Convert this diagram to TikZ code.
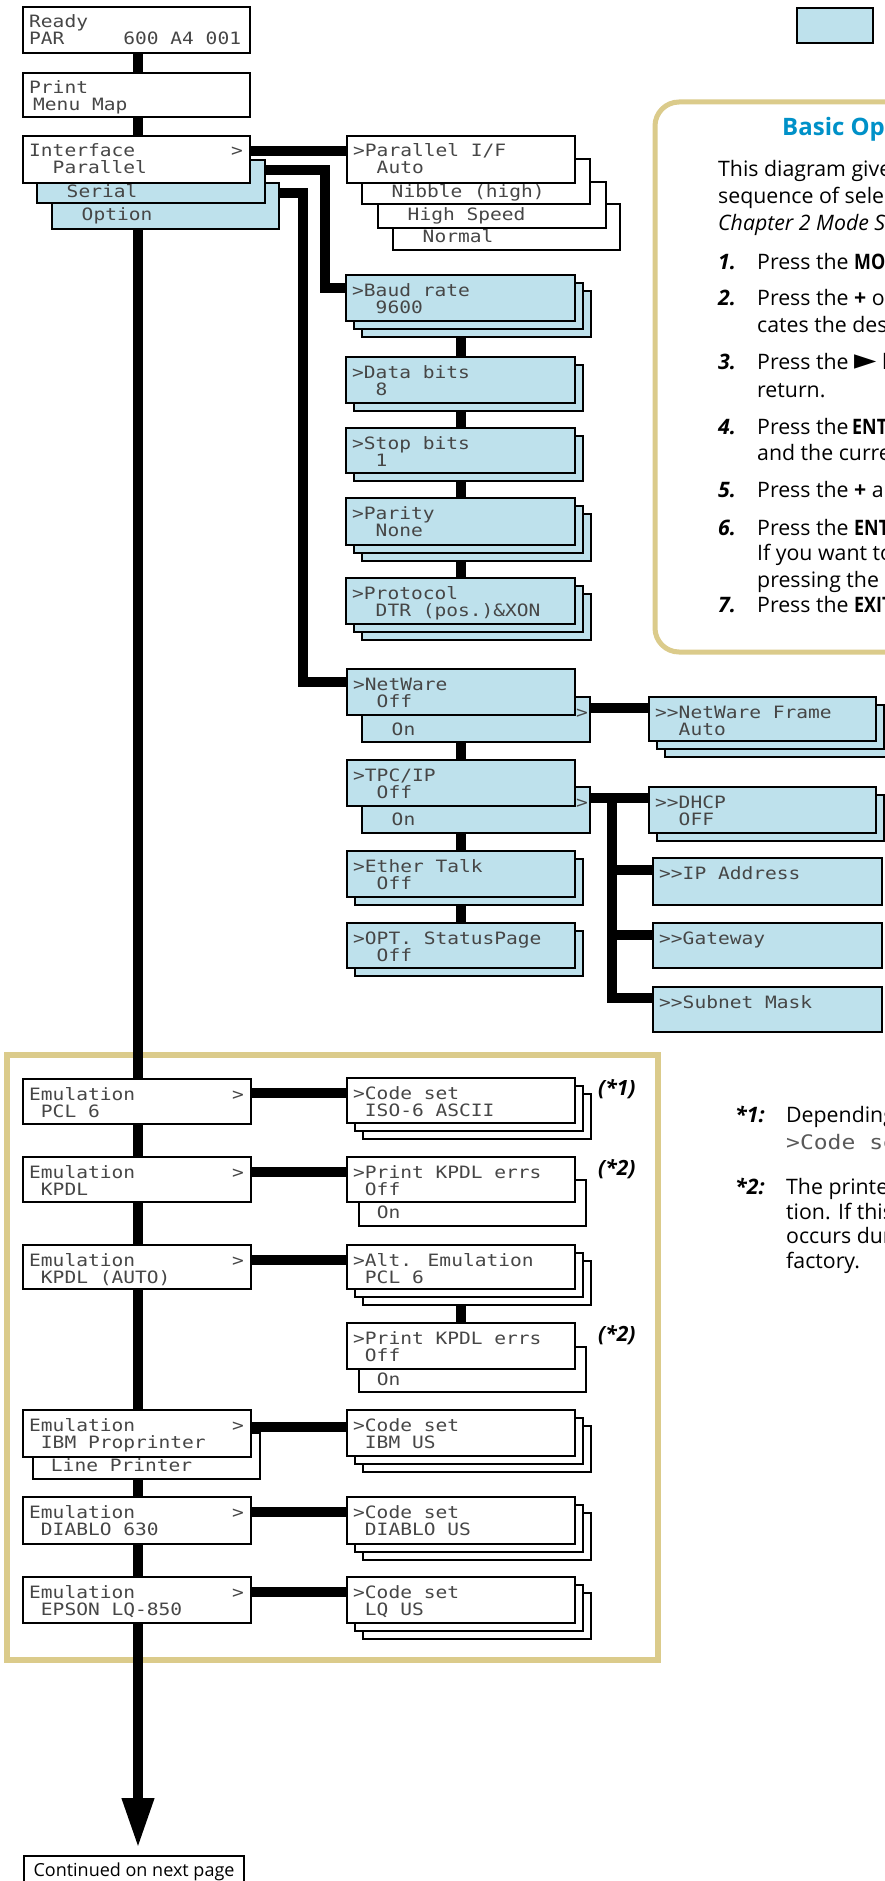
\documentclass[tikz,border=0pt]{standalone}
\usepackage{fontspec}
\setmainfont{Open Sans}
\newfontfamily\cbf[FakeStretch=0.84]{Open Sans}
\newfontfamily\lcdfont[FakeStretch=1.15]{DejaVu Sans Mono}
\newfontfamily\symfont{DejaVu Sans}
\usetikzlibrary{arrows.meta}
\definecolor{lcdblue}{RGB}{190,225,236}
\definecolor{tanc}{RGB}{219,203,139}
\definecolor{titleblue}{RGB}{0,145,200}
\definecolor{lcdtext}{RGB}{70,70,70}
\pgfdeclarelayer{back}
\pgfdeclarelayer{bg}
\pgfsetlayers{back,bg,main}
\newcommand\lsp{\hphantom{0}}
\newcommand\kb[1]{{\cbf\bfseries #1}}
\tikzset{
  lbox/.style={draw=black,line width=2.6pt,anchor=north west,inner sep=0pt,outer sep=0pt},
  conn/.style={draw=black,line width=10pt},
  lcd/.style={anchor=base west,inner sep=0pt,text=lcdtext,font=\lcdfont\fontsize{17}{17}\selectfont},
  body/.style={anchor=base west,inner sep=0pt,font=\fontsize{21.3}{26}\selectfont},
  note/.style={anchor=base west,inner sep=0pt,font=\fontsize{21}{21}\selectfont\bfseries\itshape},
  num/.style={anchor=base west,inner sep=0pt,font=\fontsize{21.3}{26}\selectfont\bfseries\itshape},
}
\newcommand\Lbox[8]{%
  \node[lbox,fill=#6,minimum width={(#4-(#2))*1pt},minimum height={(#5-(#3))*1pt}] (#1) at (#2,#3) {};
  \node[lcd] (#1-a) at ([xshift=6pt,yshift=-21pt]#1.north west) {#7};
  \node[lcd] (#1-b) at ([xshift=6pt,yshift=-38pt]#1.north west) {#8};}
\newcommand\Llayer[6]{%
  \node[lbox,fill=#6,minimum width={(#4-(#2))*1pt},minimum height={(#5-(#3))*1pt}] (#1) at (#2,#3) {};}
\newcommand\Lstack[9]{%
  \ifnum#7>2 \Llayer{#1-3}{#2+16}{#3+16}{#4+16}{#5+16}{#6}\fi
  \ifnum#7>1 \Llayer{#1-2}{#2+8}{#3+8}{#4+8}{#5+8}{#6}\fi
  \Lbox{#1}{#2}{#3}{#4}{#5}{#6}{#8}{#9}}
\newcommand\Larr[1]{\node[lcd,anchor=base] (#1-r) at ([xshift=-13pt,yshift=-21pt]#1.north east) {>};}
\begin{document}
\begin{tikzpicture}[x=1pt,y=-1pt]
\useasboundingbox (0,0) rectangle (885,1881);
\clip (0,0) rectangle (885,1881);
\begin{pgfonlayer}{back}
\fill[white] (0,0) rectangle (885,1881);
\draw[tanc,line width=5pt,rounded corners=24pt] (655,102) rectangle (1000,652);
\draw[tanc,line width=6pt] (7,1055) rectangle (658,1660);
\end{pgfonlayer}

% ---- column A
\Lbox{ready}{23}{7}{250}{53}{white}{Ready}{PAR\lsp\lsp\lsp\lsp\lsp600 A4 001}
\Lbox{print}{23}{73}{250}{117}{white}{Print}{\hspace{4pt}Menu Map}
\Lbox{option}{52}{183}{279}{229}{lcdblue}{}{\lsp\lsp Option}
\Lbox{serial}{37}{160}{265}{203}{lcdblue}{}{\lsp\lsp Serial}
\Lbox{iface}{23}{136}{250}{183}{white}{Interface}{\lsp\lsp Parallel}\Larr{iface}

% ---- parallel
\Lbox{normal}{393}{204}{620}{250}{white}{}{\lsp\lsp Normal}
\Lbox{hspeed}{378}{182}{606}{228}{white}{}{\lsp\lsp High Speed}
\Lbox{nibble}{362}{159}{590}{204}{white}{}{\lsp\lsp Nibble (high)}
\Lbox{par}{347}{136}{575}{183}{white}{>Parallel I/F}{\lsp\lsp Auto}

% ---- serial
\Lstack{baud}{346}{275}{575}{321}{lcdblue}{3}{>Baud rate}{\lsp\lsp 9600}
\Lstack{data}{346}{357}{575}{403}{lcdblue}{2}{>Data bits}{\lsp\lsp 8}
\Lstack{stop}{346}{428}{575}{473}{lcdblue}{2}{>Stop bits}{\lsp\lsp 1}
\Lstack{parity}{346}{498}{575}{545}{lcdblue}{3}{>Parity}{\lsp\lsp None}
\Lstack{proto}{346}{578}{575}{624}{lcdblue}{3}{>Protocol}{\lsp\lsp DTR (pos.)\&XON}

% ---- option
\Lbox{nwon}{362}{697}{590}{742}{lcdblue}{}{\lsp\lsp On}
\node[lcd,anchor=base] (nwon-r) at ([xshift=-8pt,yshift=-21pt]nwon.north east) {>};
\Lbox{nw}{347}{669}{575}{715}{lcdblue}{>NetWare}{\lsp\lsp Off}
\Lbox{tcpon}{362}{787}{590}{833}{lcdblue}{}{\lsp\lsp On}
\node[lcd,anchor=base] (tcpon-r) at ([xshift=-8pt,yshift=-21pt]tcpon.north east) {>};
\Lbox{tcp}{347}{760}{575}{806}{lcdblue}{>TPC/IP}{\lsp\lsp Off}
\Lstack{ether}{347}{851}{575}{897}{lcdblue}{2}{>Ether Talk}{\lsp\lsp Off}
\Lstack{opt}{347}{923}{575}{968}{lcdblue}{2}{>OPT. StatusPage}{\lsp\lsp Off}

\Lstack{frame}{649}{697}{876}{741}{lcdblue}{3}{>{}>NetWare Frame}{\lsp\lsp Auto}
\Lstack{dhcp}{649}{787}{876}{833}{lcdblue}{2}{>{}>DHCP}{\lsp\lsp OFF}
\Lbox{ipaddr}{653}{858}{882}{905}{lcdblue}{>{}>IP Address}{}
\Lbox{gw}{653}{923}{882}{968}{lcdblue}{>{}>Gateway}{}
\Lbox{subnet}{653}{987}{882}{1032}{lcdblue}{>{}>Subnet Mask}{}

% ---- emulation
\Lbox{pcl}{23}{1079}{251}{1124}{white}{Emulation}{\lsp PCL 6}\Larr{pcl}
\Lstack{iso}{347}{1078}{575}{1123}{white}{3}{>Code set}{\lsp ISO-6 ASCII}
\Lbox{kpdl}{23}{1157}{251}{1202}{white}{Emulation}{\lsp KPDL}\Larr{kpdl}
\Lbox{kerron}{359}{1180}{586}{1226}{white}{}{\lsp On}
\Lbox{kerr}{347}{1157}{575}{1202}{white}{>Print KPDL errs}{\lsp Off}
\Lbox{kauto}{23}{1245}{251}{1289}{white}{Emulation}{\lsp KPDL (AUTO)}\Larr{kauto}
\Lstack{alt}{347}{1245}{575}{1289}{white}{3}{>Alt. Emulation}{\lsp PCL 6}
\Lbox{kerrbon}{359}{1347}{586}{1392}{white}{}{\lsp On}
\Lbox{kerrb}{347}{1323}{575}{1369}{white}{>Print KPDL errs}{\lsp Off}
\Lbox{lineprn}{33}{1433}{260}{1479}{white}{}{\lsp Line Printer}
\Lbox{ibm}{23}{1410}{251}{1457}{white}{Emulation}{\lsp IBM Proprinter}\Larr{ibm}
\Lstack{ibmcs}{347}{1410}{575}{1456}{white}{3}{>Code set}{\lsp IBM US}
\Lbox{diablo}{23}{1497}{251}{1544}{white}{Emulation}{\lsp DIABLO 630}\Larr{diablo}
\Lstack{diacs}{347}{1497}{575}{1544}{white}{3}{>Code set}{\lsp DIABLO US}
\Lbox{epson}{23}{1577}{251}{1623}{white}{Emulation}{\lsp EPSON LQ-850}\Larr{epson}
\Lstack{lqcs}{347}{1577}{575}{1623}{white}{3}{>Code set}{\lsp LQ US}

\node[note] (n1) at (598,1095) {(*1)};
\node[note] (n2) at (598,1175) {(*2)};
\node[note] (n3) at (598,1341) {(*2)};

% ---- continued + legend
\node[lbox,fill=white,minimum width=220pt,minimum height=40pt] (cont) at (24,1856) {};
\node[anchor=base,inner sep=0pt,font=\fontsize{18}{18}\selectfont] (cont-t) at (134,1876) {Continued on next page};
\node[lbox,fill=lcdblue,minimum width=76pt,minimum height=35pt] (legend) at (797,8) {};

% ---- panel text
\node[anchor=base west,inner sep=0pt,font=\fontsize{24}{24}\selectfont\bfseries,text=titleblue] (ptitle) at (782,136) {Basic Operation};
\node[body] (p1) at (718,177) {This diagram gives the menu};
\node[body] (p2) at (718,204) {sequence of selections};
\node[body] (p3) at (718,230) {\itshape Chapter 2 Mode Selection};
\node[num] (i1) at (718,269) {1.};
\node[body] (i1t) at (757,269) {Press the \kb{MODE} key};
\node[num] (i2) at (718,305) {2.};
\node[body] (i2t) at (757,305) {Press the \textbf{+} or \textbf{--} key};
\node[body] (i2u) at (757,332) {cates the desired};
\node[num] (i3) at (718,369) {3.};
\node[body] (i3t) at (757,369) {Press the {\symfont\fontsize{29}{29}\selectfont ►} key};
\node[body] (i3u) at (757,397) {return.};
\node[num] (i4) at (718,434) {4.};
\node[body] (i4t) at (757,434) {Press the\,\kb{ENTER} key};
\node[body] (i4u) at (757,460) {and the current};
\node[num] (i5) at (718,497) {5.};
\node[body] (i5t) at (757,497) {Press the \textbf{+} and};
\node[num] (i6) at (718,535) {6.};
\node[body] (i6t) at (757,535) {Press the \kb{ENTER}};
\node[body] (i6u) at (757,560) {If you want to};
\node[body] (i6v) at (757,587) {pressing the MODE};
\node[num] (i7) at (718,612) {7.};
\node[body] (i7t) at (757,612) {Press the \kb{EXIT}};

% ---- footnotes
\node[num] (f1) at (735,1122) {*1:};
\node[body] (f1t) at (786,1122) {Depending on the};
\node[anchor=base west,inner sep=0pt,text=black!65,font=\lcdfont\fontsize{20}{20}\selectfont] (f1c) at (786,1149) {>Code set};
\node[num] (f2) at (735,1194) {*2:};
\node[body] (f2t) at (786,1194) {The printer error};
\node[body] (f2u) at (786,1219) {tion. If this error};
\node[body] (f2v) at (786,1243) {occurs during};
\node[body] (f2w) at (786,1268) {factory.};

% ---- connectors
\coordinate (mx) at (138,0);
\coordinate (bx) at (461,0);
\coordinate (tx) at (612,0);
\coordinate (sx) at (325,0);
\coordinate (ox) at (303,0);
\coordinate (tip) at (138,1848);
\coordinate (yP) at (0,151);
\coordinate (yS1) at (0,170);
\coordinate (yB) at (0,288);
\coordinate (yO1) at (0,193);
\coordinate (yN) at (0,682);
\coordinate (yNF) at (0,708);
\coordinate (yT) at (0,798);
\coordinate (yI) at (0,870);
\coordinate (yG) at (0,935);
\coordinate (ySM) at (0,998);
\coordinate (yE1) at (0,1093);
\coordinate (yE2) at (0,1172);
\coordinate (yE3) at (0,1260);
\coordinate (yE4) at (0,1427);
\coordinate (yE5) at (0,1512);
\coordinate (yE6) at (0,1592);
\begin{pgfonlayer}{bg}
\draw[conn] (ready.south -| mx) -- (print.north -| mx);
\draw[conn] (print.south -| mx) -- (iface.north -| mx);
\draw[conn,-{Triangle[length=50pt,width=30pt]}] (option.south -| mx) -- (tip);
\draw[conn] (iface.east |- yP) -- (par.west |- yP);
\draw[conn] (serial.east |- yS1) -- (sx |- yS1) -- (sx |- yB) -- (baud.west |- yB);
\draw[conn] (option.east |- yO1) -- (ox |- yO1) -- (ox |- yN) -- (nw.west |- yN);
\draw[conn] (baud-3.south -| bx) -- (data.north -| bx);
\draw[conn] (data-2.south -| bx) -- (stop.north -| bx);
\draw[conn] (stop-2.south -| bx) -- (parity.north -| bx);
\draw[conn] (parity-3.south -| bx) -- (proto.north -| bx);
\draw[conn] (nwon.south -| bx) -- (tcp.north -| bx);
\draw[conn] (tcpon.south -| bx) -- (ether.north -| bx);
\draw[conn] (ether-2.south -| bx) -- (opt.north -| bx);
\draw[conn] (nwon.east |- yNF) -- (frame.west |- yNF);
\draw[conn] (tcpon.east |- yT) -- (dhcp.west |- yT);
\draw[conn] (tx |- yT) -- (tx |- ySM) -- (subnet.west |- ySM);
\draw[conn] (tx |- yI) -- (ipaddr.west |- yI);
\draw[conn] (tx |- yG) -- (gw.west |- yG);
\draw[conn] (pcl.east |- yE1) -- (iso.west |- yE1);
\draw[conn] (kpdl.east |- yE2) -- (kerr.west |- yE2);
\draw[conn] (kauto.east |- yE3) -- (alt.west |- yE3);
\draw[conn] (alt-3.south -| bx) -- (kerrb.north -| bx);
\draw[conn] (ibm.east |- yE4) -- (ibmcs.west |- yE4);
\draw[conn] (diablo.east |- yE5) -- (diacs.west |- yE5);
\draw[conn] (epson.east |- yE6) -- (lqcs.west |- yE6);
\end{pgfonlayer}
\end{tikzpicture}
\end{document}
